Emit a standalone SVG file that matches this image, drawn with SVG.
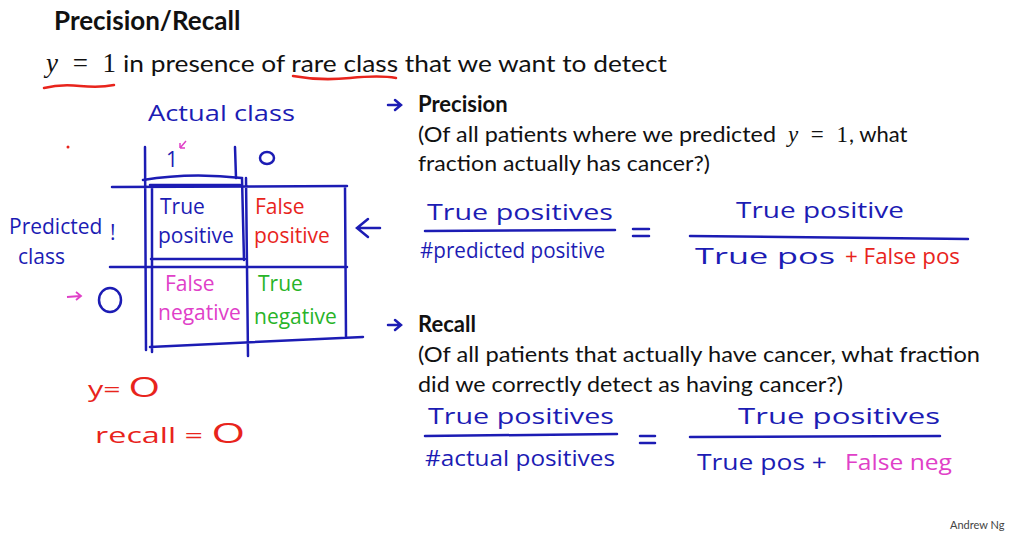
<svg xmlns="http://www.w3.org/2000/svg" width="1022" height="537" viewBox="0 0 1022 537">
<style>
.t{font-family:Lato,"Open Sans","Liberation Sans",sans-serif;fill:#111}
.m{font-family:"Liberation Serif",serif;fill:#111}
.h{font-family:"Open Sans","Liberation Sans",sans-serif;font-size:21px}
.b{fill:#1c1cb4}.r{fill:#e8241c}.p{fill:#e040c8}.g{fill:#28b428}
.ln{stroke:#1c1cb4;stroke-width:2.5;fill:none;stroke-linecap:round}
.rl{stroke:#e8241c;stroke-width:2.5;fill:none;stroke-linecap:round}
</style>
<rect width="1022" height="537" fill="#fff"/>
<g id="header">
<text class="t" x="54" y="30" font-size="26" font-weight="bold">Precision/Recall</text>
<text class="m" x="46" y="72" font-size="27" textLength="70" lengthAdjust="spacing"><tspan font-style="italic">y</tspan> = 1</text>
<text class="t" x="123" y="72" font-size="24" textLength="544" lengthAdjust="spacingAndGlyphs">in presence of rare class that we want to detect</text>
<path class="rl" d="M44 88 Q60 84 80 86 T114 85"/>
<path class="rl" d="M293 76 Q320 81 350 78 T396 78"/>
</g>
<g id="matrix">
<text class="h b" x="148" y="121" font-size="24" textLength="147" lengthAdjust="spacingAndGlyphs">Actual  class</text>
<circle cx="68" cy="147" r="1.5" fill="#e8241c"/>
<text class="h b" x="166" y="167">1</text>
<path d="M186 141 L180 148 M180 148 L180 143 M180 148 L185 148" stroke="#e040c8" stroke-width="1.5" fill="none"/>
<ellipse class="ln" cx="267" cy="158" rx="7" ry="6"/>
<path class="ln" d="M145 147 L146 350 M235 147 L236 178 M112 187 L347 186 M110 267 L347 267 M345 187 L346 337 M152 187 L152 352 M150 347 L363 337 M246 178 L248 356"/>
<path class="ln" d="M143 180 Q190 172 242 178 L244 260 M150 185 L240 185 M151 259 L245 259"/>
<text class="h b" x="160" y="214">True</text>
<text class="h b" x="158" y="243">positive</text>
<text class="h r" x="255" y="214">False</text>
<text class="h r" x="254" y="243">positive</text>
<text class="h p" x="165" y="291">False</text>
<text class="h p" x="158" y="320">negative</text>
<text class="h g" x="258" y="291">True</text>
<text class="h g" x="254" y="324">negative</text>
<text class="h b" x="9" y="234">Predicted</text>
<text class="h b" x="18" y="264">class</text>
<text class="h b" x="110" y="240">!</text>
<path d="M67 297 L80 296 M76 292 L81 296 L76 300" stroke="#e040c8" stroke-width="1.8" fill="none"/>
<ellipse class="ln" cx="110" cy="300" rx="11" ry="12"/>
<path class="ln" d="M380 228 L358 228 M368 219 L357 228 L368 237"/>
<text class="h r" x="88" y="397" font-size="26" textLength="72" lengthAdjust="spacingAndGlyphs">y= <tspan font-size="28">O</tspan></text>
<text class="h r" x="95" y="443" font-size="26" textLength="150" lengthAdjust="spacingAndGlyphs">recall  = <tspan font-size="28">O</tspan></text>
</g>
<g id="precision">
<path class="ln" d="M388 105 L400 105 M395 100 L401 105 L395 110" stroke-width="2"/>
<text class="t" x="418" y="112" font-size="22" font-weight="bold">Precision</text>
<text class="t" x="418" y="142" font-size="22" textLength="358" lengthAdjust="spacingAndGlyphs">(Of all patients where we predicted</text>
<text class="m" x="788" y="142" font-size="23" textLength="60" lengthAdjust="spacing"><tspan font-style="italic">y</tspan> = 1</text>
<text class="t" x="849" y="142" font-size="22">, what</text>
<text class="t" x="418" y="171" font-size="22" textLength="292" lengthAdjust="spacingAndGlyphs">fraction actually has cancer?)</text>
<text class="h b" x="427" y="220" textLength="186" lengthAdjust="spacingAndGlyphs">True  positives</text>
<path class="ln" d="M425 231 L615 230"/>
<text class="h b" x="420" y="258" textLength="185" lengthAdjust="spacingAndGlyphs">#predicted positive</text>
<path class="ln" d="M633 229 L649 229 M633 236 L649 236" stroke-width="2"/>
<text class="h b" x="736" y="218" textLength="168" lengthAdjust="spacingAndGlyphs">True  positive</text>
<path class="ln" d="M690 236 L968 239"/>
<text class="h b" x="695" y="264" textLength="140" lengthAdjust="spacingAndGlyphs">True  pos</text>
<text class="h r" x="845" y="264" textLength="115" lengthAdjust="spacingAndGlyphs">+ False  pos</text>
</g>
<g id="recall">
<path class="ln" d="M388 325 L400 325 M395 320 L401 325 L395 330" stroke-width="2"/>
<text class="t" x="418" y="332" font-size="22" font-weight="bold">Recall</text>
<text class="t" x="418" y="362" font-size="22" textLength="562" lengthAdjust="spacingAndGlyphs">(Of all patients that actually have cancer, what fraction</text>
<text class="t" x="418" y="392" font-size="22" textLength="425" lengthAdjust="spacingAndGlyphs">did we correctly detect as having cancer?)</text>
<text class="h b" x="428" y="424" textLength="186" lengthAdjust="spacingAndGlyphs">True  positives</text>
<path class="ln" d="M425 436 L617 434"/>
<text class="h b" x="425" y="466" textLength="190" lengthAdjust="spacingAndGlyphs">#actual  positives</text>
<path class="ln" d="M640 436 L655 436 M640 443 L655 443" stroke-width="2"/>
<text class="h b" x="738" y="424" textLength="202" lengthAdjust="spacingAndGlyphs">True  positives</text>
<path class="ln" d="M690 437 L940 436"/>
<text class="h b" x="697" y="470" textLength="130" lengthAdjust="spacingAndGlyphs">True  pos  +</text>
<text class="h p" x="845" y="470" textLength="107" lengthAdjust="spacingAndGlyphs">False  neg</text>
</g>
<text class="t" x="950" y="529" font-size="11" style="fill:#444">Andrew Ng</text>
</svg>
